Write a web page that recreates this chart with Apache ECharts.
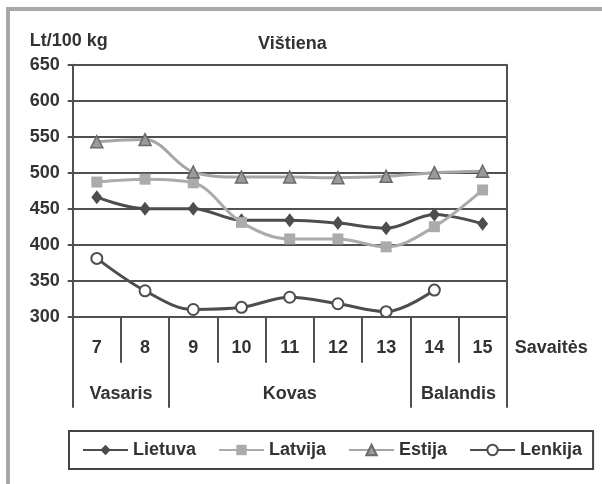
<!DOCTYPE html>
<html>
<head>
<meta charset="utf-8">
<script src="https://cdn.jsdelivr.net/npm/echarts@6/dist/echarts.min.js"></script>
<style>
  html, body { margin: 0; padding: 0; background: #fff; }
  #chart { width: 602px; height: 484px; }
</style>
</head>
<body>
<div id="chart"></div>
<script>
// savaitės (weeks)
const weeks = ['7', '8', '9', '10', '11', '12', '13', '14', '15']
// months and how many weeks each covers
const monthNames = ['Vasaris', 'Kovas', 'Balandis']
const monthWeeks = [2, 5, 2]

// Lt/100 kg
const lietuva = [466, 450, 450, 434, 434, 430, 423, 442, 429]
const latvija = [487, 491, 486, 431, 408, 408, 397, 425, 476]
const estija = [543, 546, 501, 494, 494, 493, 495, 500, 502]
const lenkija = [381, 336, 310, 313, 327, 318, 307, 337, null]

const yTicks = { min: 300, max: 650, step: 50 }

// month separators / label centres on a 0..9 value scale
const monthEdges = [0]
monthWeeks.forEach(n => monthEdges.push(monthEdges[monthEdges.length - 1] + n))
const monthCenters = monthNames.map((_, i) => (monthEdges[i] + monthEdges[i + 1]) / 2)

const font = "'Liberation Sans', Arial, sans-serif"
const dark = '#505050'
const textColor = '#333'

const chart = echarts.init(document.getElementById('chart'))

const lineSeries = (name, data, color, symbol, size, itemStyle) => ({
  name,
  type: 'line',
  data,
  smooth: 0.35,
  symbol,
  symbolSize: size,
  connectNulls: false,
  lineStyle: { color, width: 3 },
  itemStyle: Object.assign({ color, borderWidth: 0 }, itemStyle || {}),
  emphasis: { disabled: true }
})

chart.setOption({
  animation: false,
  backgroundColor: '#fff',
  textStyle: { fontFamily: font },
  title: {
    text: 'Vištiena',
    left: 253,
    top: 30,
    textStyle: { fontFamily: font, fontSize: 18, fontWeight: 'bold', color: textColor }
  },
  graphic: [
    { type: 'line', shape: { x1: 6, y1: 9, x2: 602, y2: 9 }, style: { stroke: '#a8a8a8', lineWidth: 4 } },
    { type: 'line', shape: { x1: 8, y1: 7, x2: 8, y2: 484 }, style: { stroke: '#a8a8a8', lineWidth: 4 } }
  ],
  grid: { left: 72.7, right: 95.3, top: 64.7, bottom: 167.3 },
  legend: {
    left: 69,
    top: 431,
    padding: [10, 11, 10, 13],
    itemGap: 22,
    itemWidth: 45,
    itemHeight: 13,
    borderColor: '#444',
    borderWidth: 2,
    selectedMode: false,
    textStyle: { fontFamily: font, fontSize: 18, fontWeight: 'bold', color: textColor },
    data: ['Lietuva', 'Latvija', 'Estija', 'Lenkija']
  },
  xAxis: [
    {
      type: 'category',
      data: weeks,
      boundaryGap: true,
      name: 'Savaitės',
      nameLocation: 'end',
      nameGap: 8,
      nameTextStyle: {
        fontFamily: font, fontSize: 18, fontWeight: 'bold', color: textColor,
        verticalAlign: 'top', align: 'left', padding: [22, 0, 0, 0]
      },
      axisLine: { show: true, lineStyle: { color: dark, width: 2 } },
      axisTick: { show: true, interval: 0, length: 46, lineStyle: { color: dark, width: 2 } },
      axisLabel: { margin: 22, fontFamily: font, fontSize: 18, fontWeight: 'bold', color: textColor },
      splitLine: { show: false }
    },
    {
      type: 'value',
      min: 0,
      max: weeks.length,
      position: 'bottom',
      axisLine: { show: false },
      axisTick: { show: true, customValues: monthEdges, length: 91, lineStyle: { color: dark, width: 2 } },
      axisLabel: {
        show: true,
        customValues: monthCenters,
        margin: 68,
        fontFamily: font, fontSize: 18, fontWeight: 'bold', color: textColor,
        formatter: v => monthNames[monthCenters.indexOf(v)] || ''
      },
      splitLine: { show: false }
    }
  ],
  yAxis: [
    {
      type: 'value',
      min: yTicks.min,
      max: yTicks.max,
      interval: yTicks.step,
      name: 'Lt/100 kg',
      nameLocation: 'end',
      nameGap: 24,
      nameTextStyle: {
        fontFamily: font, fontSize: 18, fontWeight: 'bold', color: textColor,
        align: 'center', verticalAlign: 'middle', padding: [0, 8, 0, 0]
      },
      axisLine: { show: true, lineStyle: { color: dark, width: 2 } },
      axisTick: { show: true, length: 5, lineStyle: { color: dark, width: 2 } },
      axisLabel: { margin: 13, fontFamily: font, fontSize: 18, fontWeight: 'bold', color: textColor },
      splitLine: { show: true, lineStyle: { color: dark, width: 2 } }
    },
    {
      type: 'value',
      min: yTicks.min,
      max: yTicks.max,
      interval: yTicks.step,
      position: 'right',
      axisLine: { show: true, lineStyle: { color: dark, width: 2 } },
      axisTick: { show: false },
      axisLabel: { show: false },
      splitLine: { show: false }
    }
  ],
  series: [
    lineSeries('Lietuva', lietuva, '#4d4d4d', 'diamond', [11, 14]),
    lineSeries('Latvija', latvija, '#ababab', 'rect', 11),
    lineSeries('Estija', estija, '#a6a6a6', 'triangle', 12, { color: '#9a9a9a', borderColor: '#6a6a6a', borderWidth: 1.5 }),
    lineSeries('Lenkija', lenkija, '#4d4d4d', 'circle', 11, { color: '#fff', borderColor: '#4d4d4d', borderWidth: 2 })
  ]
})
</script>
</body>
</html>
